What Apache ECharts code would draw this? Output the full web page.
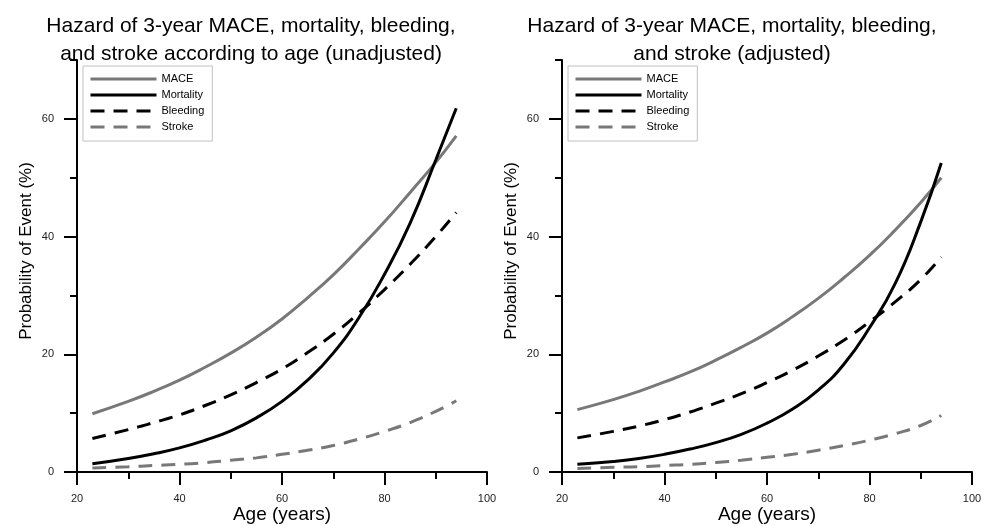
<!DOCTYPE html>
<html>
<head>
<meta charset="utf-8">
<script src="https://cdn.jsdelivr.net/npm/echarts@6/dist/echarts.min.js"></script>
<style>
  html, body { margin: 0; padding: 0; background: #fff; }
  #main { width: 984px; height: 526px; }
</style>
</head>
<body>
<div id="main"></div>
<script>
const ages = [23, 30, 35, 40, 45, 50, 55, 60, 65, 70, 75, 80, 85, 90, 94];

// left panel: unadjusted
const maceUnadj      = [9.9, 12.0, 13.7, 15.6, 17.8, 20.2, 22.9, 26.0, 29.6, 33.5, 37.9, 42.5, 47.5, 52.6, 57.1];
const mortalityUnadj = [1.4, 2.3, 3.1, 4.1, 5.4, 7.0, 9.2, 12.0, 15.6, 20.2, 26.2, 33.6, 42.3, 53.0, 61.8];
const bleedingUnadj  = [5.7, 7.2, 8.4, 9.7, 11.3, 13.1, 15.2, 17.5, 20.3, 23.4, 27.0, 31.0, 35.3, 40.0, 44.1];
const strokeUnadj    = [0.7, 0.9, 1.1, 1.3, 1.6, 2.0, 2.4, 3.0, 3.7, 4.5, 5.6, 6.9, 8.4, 10.3, 12.1];

// right panel: adjusted
const maceAdj      = [10.6, 12.3, 13.7, 15.3, 17.0, 19.0, 21.2, 23.6, 26.4, 29.5, 33.0, 36.8, 41.1, 45.8, 50.0];
const mortalityAdj = [1.3, 1.8, 2.3, 3.0, 3.9, 5.0, 6.4, 8.3, 10.7, 13.9, 18.3, 24.5, 32.0, 42.5, 52.5];
const bleedingAdj  = [5.8, 6.9, 7.8, 8.9, 10.2, 11.7, 13.3, 15.2, 17.3, 19.7, 22.4, 25.5, 28.9, 32.7, 36.5];
const strokeAdj    = [0.6, 0.8, 0.9, 1.1, 1.3, 1.6, 2.0, 2.5, 3.0, 3.7, 4.5, 5.4, 6.5, 7.9, 9.6];

const seriesNames = ['MACE', 'Mortality', 'Bleeding', 'Stroke'];
const yMajorTicks = [0, 20, 40, 60];
const yMinorTicks = [10, 30, 50, 70];
const titles = [
  'Hazard of 3-year MACE, mortality, bleeding,\nand stroke according to age (unadjusted)',
  'Hazard of 3-year MACE, mortality, bleeding,\nand stroke (adjusted)'
];

const FONT = '"Liberation Sans", Arial, sans-serif';
const GRAY = '#787878';
const styles = {
  MACE:      { color: GRAY,   type: 'solid' },
  Mortality: { color: '#000', type: 'solid' },
  Bleeding:  { color: '#000', type: [14, 9] },
  Stroke:    { color: GRAY,   type: [14, 9] }
};

const panels = [
  { left: 77,  titleX: 251, data: [maceUnadj, mortalityUnadj, bleedingUnadj, strokeUnadj] },
  { left: 562, titleX: 732, data: [maceAdj, mortalityAdj, bleedingAdj, strokeAdj] }
];

const chart = echarts.init(document.getElementById('main'));

const grid = [], xAxis = [], yAxis = [], series = [], title = [], legend = [];

panels.forEach((p, i) => {
  grid.push({ left: p.left, top: 60, width: 410, height: 412, containLabel: false, outerBoundsMode: 'none' });

  title.push({
    text: titles[i],
    left: p.titleX, top: 12, padding: 0,
    textAlign: 'center',
    textStyle: { fontFamily: FONT, fontSize: 21, fontWeight: 'normal', color: '#000', lineHeight: 28 }
  });

  legend.push({
    data: seriesNames,
    orient: 'vertical',
    left: p.left + 6, top: 66,
    padding: [7, 8, 8, 6],
    borderColor: '#c0c0c0', borderWidth: 1,
    itemWidth: 66, itemHeight: 12, itemGap: 4,
    itemStyle: { opacity: 0 },
    lineStyle: { width: 3 },
    selectedMode: false,
    textStyle: { fontFamily: FONT, fontSize: 11, color: '#000', lineHeight: 12 }
  });

  xAxis.push({
    gridIndex: i, type: 'value', min: 20, max: 100, interval: 20,
    name: 'Age (years)', nameLocation: 'middle', nameGap: 33, nameMoveOverlap: false,
    nameTextStyle: { fontFamily: FONT, fontSize: 19, color: '#000' },
    axisLine: { onZero: false, lineStyle: { color: '#000', width: 2 } },
    axisTick: { length: 13, lineStyle: { color: '#000', width: 2 } },
    minorTick: { show: true, splitNumber: 2, length: 7, lineStyle: { color: '#000', width: 2 } },
    axisLabel: { fontFamily: FONT, fontSize: 11, color: '#222', margin: 21 },
    splitLine: { show: false }
  });

  yAxis.push({
    gridIndex: i, type: 'value', position: 'left', min: 0, max: 70, interval: 10,
    name: 'Probability of Event (%)', nameLocation: 'middle', nameGap: 42, nameMoveOverlap: false,
    nameTextStyle: { fontFamily: FONT, fontSize: 17, color: '#000', padding: [0, 0, 0, 30] },
    axisLine: { onZero: false, lineStyle: { color: '#000', width: 2 } },
    axisTick: { length: 13, customValues: yMajorTicks, lineStyle: { color: '#000', width: 2 } },
    axisLabel: { fontFamily: FONT, fontSize: 11, color: '#222', margin: 23, customValues: yMajorTicks },
    splitLine: { show: false }
  });
  // second axis on the same spot only for the short ticks
  yAxis.push({
    gridIndex: i, type: 'value', position: 'left', offset: 0, min: 0, max: 70, interval: 10,
    axisLine: { show: false },
    axisTick: { length: 7, customValues: yMinorTicks, lineStyle: { color: '#000', width: 2 } },
    axisLabel: { show: false },
    splitLine: { show: false }
  });

  seriesNames.forEach((name, k) => {
    series.push({
      name: name, type: 'line', smooth: true, symbol: 'none',
      xAxisIndex: i, yAxisIndex: i * 2,
      lineStyle: { color: styles[name].color, type: styles[name].type, width: 3 },
      itemStyle: { color: styles[name].color },
      data: ages.map((a, j) => [a, p.data[k][j]])
    });
  });
});

chart.setOption({
  animation: false,
  backgroundColor: '#fff',
  title: title, legend: legend,
  grid: grid, xAxis: xAxis, yAxis: yAxis,
  series: series
});
</script>
</body>
</html>
